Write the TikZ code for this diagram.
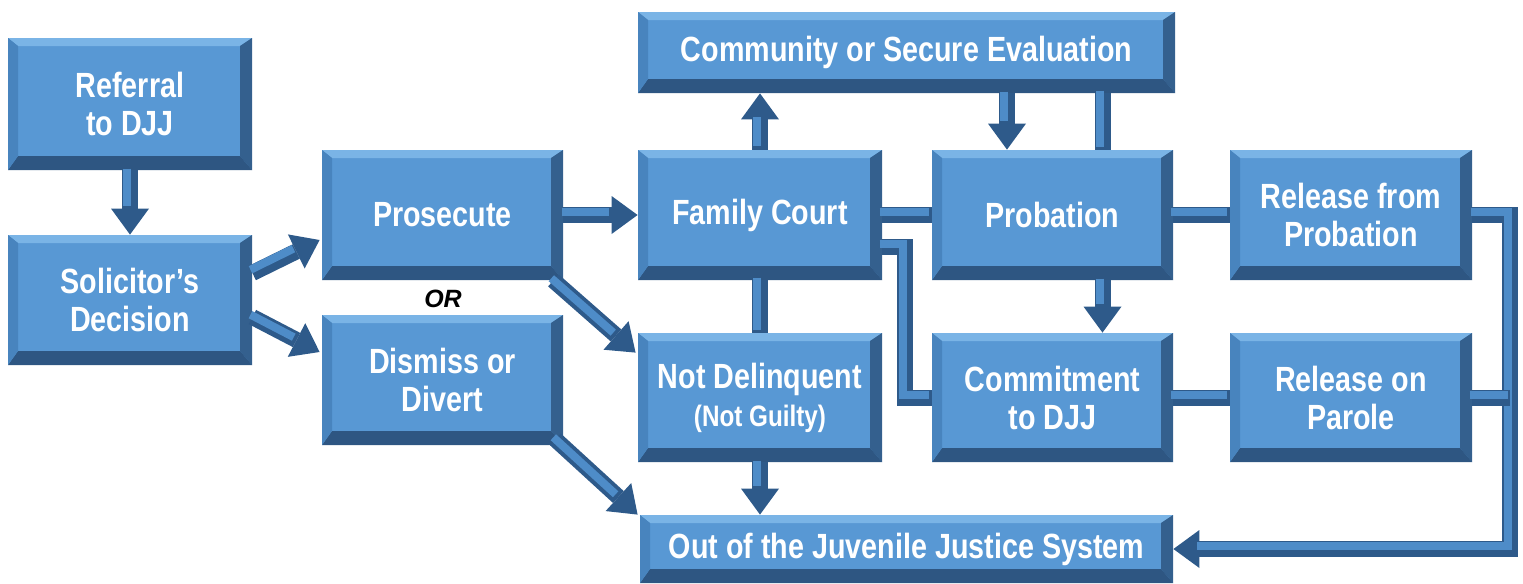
\documentclass[tikz,border=0pt]{standalone}
\usepackage{fontspec}
\setmainfont{Liberation Sans}[FakeStretch=0.82]
\newfontfamily\orfont{Liberation Sans}
\usetikzlibrary{arrows.meta}
\definecolor{face}{RGB}{88,152,212}
\definecolor{btop}{RGB}{122,180,230}
\definecolor{bleft}{RGB}{72,132,190}
\definecolor{bright}{RGB}{52,96,142}
\definecolor{bbot}{RGB}{46,86,130}
\definecolor{adark}{RGB}{46,90,138}
\definecolor{alight}{RGB}{78,140,200}
\tikzset{
  bx/.style={fill=face, text=white, align=center, inner sep=0pt,
    font=\fontsize{17.5}{19}\selectfont\bfseries,
    path picture={
      \coordinate (pSW) at (path picture bounding box.south west);
      \coordinate (pNE) at (path picture bounding box.north east);
      \coordinate (pNW) at (pSW |- pNE);
      \coordinate (pSE) at (pNE |- pSW);
      \coordinate (iNW) at ([xshift=5pt,yshift=-4pt]pNW);
      \coordinate (iNE) at ([xshift=-6pt,yshift=-4pt]pNE);
      \coordinate (iSE) at ([xshift=-6pt,yshift=7pt]pSE);
      \coordinate (iSW) at ([xshift=5pt,yshift=7pt]pSW);
      \fill[btop] (pNW) -- (pNE) -- (iNE) -- (iNW) -- cycle;
      \fill[bright] (pNE) -- (pSE) -- (iSE) -- (iNE) -- cycle;
      \fill[bbot] (pSE) -- (pSW) -- (iSW) -- (iSE) -- cycle;
      \fill[bleft] (pSW) -- (pNW) -- (iNW) -- (iSW) -- cycle;
    }},
  arr/.style={line width=8pt, draw=adark, line join=miter,
    -{Triangle[width=19pt,length=13pt,line width=0pt]},
    postaction={draw=alight, line width=4pt, shorten >=13pt, shorten <=0.5pt, -,
      transform canvas={shift={(-1.4pt,1.4pt)}}}},
  con/.style={line width=8pt, draw=adark, line join=miter,
    postaction={draw=alight, line width=4pt,
      transform canvas={shift={(-1.4pt,1.4pt)}}}}
}
\begin{document}
\begin{tikzpicture}[x=0.5pt,y=-0.5pt]
\useasboundingbox (0,0) rectangle (1523,584);
% arrows and connectors first (under boxes), using nodes defined below via a second pass is not possible, so boxes first
\node[bx, minimum width=122pt, minimum height=66pt] (ref) at (130,104) {Referral\\to DJJ};
\node[bx, minimum width=122pt, minimum height=65pt] (sol) at (130,300) {Solicitor’s\\Decision};
\node[bx, minimum width=120.5pt, minimum height=65pt] (pro) at (442.5,215) {Prosecute};
\node[bx, minimum width=120.5pt, minimum height=65pt] (dis) at (442.5,380) {Dismiss or\\Divert};
\node[font=\orfont\bfseries\itshape\fontsize{12.5}{14}\selectfont] (or) at (443,299) {OR};
\node[bx, minimum width=122pt, minimum height=65pt] (fc) at (760,215) {Family Court};
\node[bx, minimum width=122pt, minimum height=64.5pt] (nd) at (760,397.5) {Not Delinquent\\{\fontsize{14.8}{17}\selectfont (Not Guilty)}};
\node[bx, minimum width=120.5pt, minimum height=65pt] (prob) at (1052.5,215) {Probation};
\node[bx, minimum width=120.5pt, minimum height=64.5pt] (com) at (1052.5,397.5) {Commitment\\to DJJ};
\node[bx, minimum width=121pt, minimum height=65pt] (rfp) at (1351,215) {Release from\\Probation};
\node[bx, minimum width=121pt, minimum height=64.5pt] (rop) at (1351,397.5) {Release on\\Parole};
\node[bx, minimum width=268.5pt, minimum height=40.5pt] (cse) at (906.5,52.5) {Community or Secure Evaluation};
\node[bx, minimum width=266.5pt, minimum height=34pt] (out) at (906.5,549) {Out of the Juvenile Justice System};

% arrows
\draw[arr] (ref.south) -- (sol.north);
\draw[arr] ([yshift=13.5pt]sol.east) -- ([yshift=-12.5pt,xshift=-1pt]pro.west);
\draw[arr] ([yshift=-8.5pt]sol.east) -- ([yshift=14pt,xshift=-1pt]dis.west);
\draw[arr] (pro.east) -- (fc.west);
\draw[arr] ([xshift=-5pt]pro.south east) -- ([yshift=-10pt,xshift=-1pt]nd.north west);
\draw[arr] ([xshift=-4pt,yshift=3pt]dis.south east) -- ([xshift=-1pt]out.north west);
\draw[arr] (fc.north) -- (fc.north |- cse.south);
\coordinate (dA) at ([xshift=-22.75pt]prob.north);
\draw[arr] (dA |- cse.south) -- (dA);
\coordinate (dB) at ([xshift=25pt]prob.north);
\draw[con] (dB |- cse.south) -- (dB);
\draw[con] (fc.south) -- (nd.north);
\draw[arr] (nd.south) -- (nd.south |- out.north);
\draw[con] (fc.east) -- (prob.west);
\coordinate (e1) at ([yshift=-16pt]fc.east);
\coordinate (k) at ([xshift=11.5pt]e1);
\draw[con] (e1) -- (k) |- (com.west);
\coordinate (dC) at ([xshift=25pt]prob.south);
\draw[arr] (dC) -- (dC |- com.north);
\draw[con] (prob.east) -- (rfp.west);
\draw[con] (com.east) -- (rop.west);
\coordinate (r1) at ([xshift=19pt]rfp.east);
\draw[arr] (rfp.east) -- (r1) |- (out.east);
\draw[con] (rop.east) -- (rop.east -| r1);
\end{tikzpicture}
\end{document}
